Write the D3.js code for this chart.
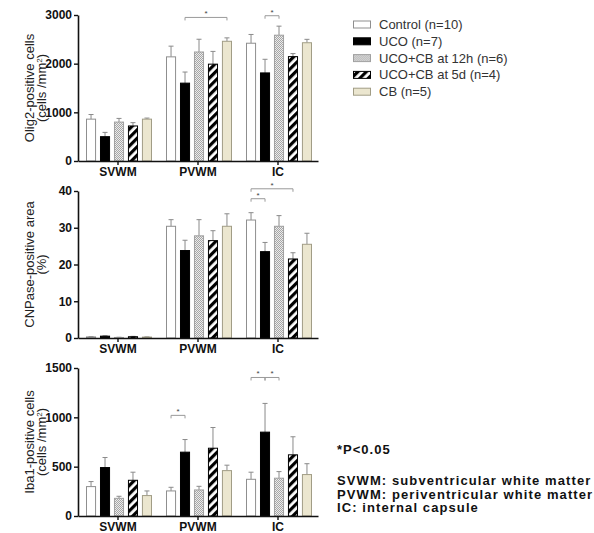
<!DOCTYPE html>
<html lang="en">
<head>
    <meta charset="utf-8">
    <title>Olig2 / CNPase / Iba1</title>
    <script src="https://cdn.jsdelivr.net/npm/d3@7"></script>
    <style>
        body { margin: 0; background: #fff; }
        svg text { font-family: "Liberation Sans", Arial, sans-serif; }
    </style>
</head>
<body>
<script>
// Data ---------------------------------------------------------
var regions = ["SVWM", "PVWM", "IC"];
var groups = ["Control (n=10)", "UCO (n=7)", "UCO+CB at 12h (n=6)", "UCO+CB at 5d (n=4)", "CB (n=5)"];

// rows = regions, columns = groups
var olig2Mean = [[860, 500, 800, 720, 860], [2140, 1600, 2240, 1990, 2460], [2420, 1810, 2585, 2145, 2430]];
var olig2Err  = [[95, 88, 75, 68, 22], [220, 228, 262, 262, 70], [180, 280, 186, 62, 70]];
var olig2Ticks = [0, 1000, 2000, 3000];

var cnpMean = [[0.3, 0.5, 0.15, 0.35, 0.25], [30.4, 23.8, 27.8, 26.5, 30.4], [32.1, 23.5, 30.4, 21.5, 25.5]];
var cnpErr  = [[0.1, 0.1, 0.05, 0.1, 0.05], [1.8, 2.8, 4.4, 2.7, 3.4], [2.0, 2.5, 2.9, 1.7, 3.0]];
var cnpTicks = [0, 10, 20, 30, 40];

var ibaMean = [[298, 491, 179, 362, 207], [254, 647, 264, 687, 460], [372, 850, 383, 620, 420]];
var ibaErr  = [[51, 102, 21, 82, 47], [37, 128, 37, 210, 55], [72, 291, 67, 183, 110]];
var ibaTicks = [0, 500, 1000, 1500];

// significance brackets: [region, group a, group b, height]
var olig2Sig = [[1, 1, 4, 2950], [2, 1, 2, 2985]];
var cnpSig = [[2, 0, 1, 37.9], [2, 0, 3, 40.6]];
var ibaSig = [[1, 0, 1, 1020], [2, 0, 1, 1404], [2, 1, 2, 1404]];

var notes = ["SVWM: subventricular white matter", "PVWM: periventricular white matter", "IC: internal capsule"];

// Layout -------------------------------------------------------
var w = 594, h = 533;
var axisX = 78;

var svg = d3.select("body").append("svg")
    .attr("width", w)
    .attr("height", h);

// patterns
var defs = svg.append("defs");
var dots = defs.append("pattern")
    .attr("id", "dots")
    .attr("width", 2).attr("height", 2)
    .attr("patternUnits", "userSpaceOnUse");
dots.append("rect").attr("width", 2).attr("height", 2).attr("fill", "#ececec");
dots.append("rect").attr("width", 1).attr("height", 1).attr("fill", "#a6a6a6");
dots.append("rect").attr("x", 1).attr("y", 1).attr("width", 1).attr("height", 1).attr("fill", "#a6a6a6");

var stripes = defs.append("pattern")
    .attr("id", "stripes")
    .attr("width", 6).attr("height", 6)
    .attr("patternUnits", "userSpaceOnUse")
    .attr("patternTransform", "rotate(45)");
stripes.append("rect").attr("width", 6).attr("height", 6).attr("fill", "#fff");
stripes.append("rect").attr("width", 3.2).attr("height", 6).attr("fill", "#000");

var fills = ["#ffffff", "#000000", "url(#dots)", "url(#stripes)", "#ebe6cf"];
var strokes = ["#8f8f8f", "#000000", "#a0a0a0", "#000000", "#a19d86"];

// Scales -------------------------------------------------------
var x0 = d3.scaleBand()
    .domain(regions)
    .range([axisX, 318]);

var x1 = d3.scaleBand()
    .domain(d3.range(groups.length))
    .range([8, 74])
    .paddingInner(0.28);

function drawPanel(means, errs, ticks, sig, top, bottom, title1, title2, sup) {
    var y = d3.scaleLinear()
        .domain([0, d3.max(ticks)])
        .range([bottom, top]);

    var g = svg.append("g");

    // bars
    var rows = g.selectAll("g.region")
        .data(means)
        .enter()
        .append("g")
        .attr("transform", function(d, i) { return "translate(" + x0(regions[i]) + ",0)"; });

    rows.each(function(row, ri) {
        var sel = d3.select(this);
        var dat = row.map(function(v, gi) { return { v: v, e: errs[ri][gi], gi: gi }; });

        // error bars (up only)
        sel.selectAll("line.err")
            .data(dat)
            .enter()
            .append("line")
            .attr("x1", function(d) { return x1(d.gi) + x1.bandwidth() / 2; })
            .attr("x2", function(d) { return x1(d.gi) + x1.bandwidth() / 2; })
            .attr("y1", function(d) { return y(d.v); })
            .attr("y2", function(d) { return y(d.v + d.e); })
            .attr("stroke", "#8a8a8a")
            .attr("stroke-width", 1);
        sel.selectAll("line.cap")
            .data(dat)
            .enter()
            .append("line")
            .attr("x1", function(d) { return x1(d.gi) + x1.bandwidth() / 2 - 2.5; })
            .attr("x2", function(d) { return x1(d.gi) + x1.bandwidth() / 2 + 2.5; })
            .attr("y1", function(d) { return y(d.v + d.e); })
            .attr("y2", function(d) { return y(d.v + d.e); })
            .attr("stroke", "#8a8a8a")
            .attr("stroke-width", 1);

        sel.selectAll("rect")
            .data(dat)
            .enter()
            .append("rect")
            .attr("x", function(d) { return x1(d.gi) + 0.5; })
            .attr("width", x1.bandwidth() - 1)
            .attr("y", function(d) { return y(d.v); })
            .attr("height", function(d) { return y(0) - y(d.v); })
            .attr("fill", function(d) { return fills[d.gi]; })
            .attr("stroke", function(d) { return strokes[d.gi]; })
            .attr("stroke-width", 1);
    });

    // axes
    var yAxis = g.append("g")
        .attr("transform", "translate(" + axisX + ",0)")
        .call(d3.axisLeft(y).tickValues(ticks).tickFormat(d3.format("d"))
            .tickSize(4).tickSizeOuter(0).tickPadding(2));
    yAxis.selectAll("text")
        .attr("font-size", "12px")
        .attr("font-weight", "bold")
        .attr("fill", "#111");

    var xAxis = g.append("g")
        .attr("transform", "translate(0," + bottom + ")")
        .call(d3.axisBottom(x0).tickSize(4).tickSizeOuter(0).tickPadding(2));
    xAxis.selectAll("text")
        .attr("font-size", "12px")
        .attr("font-weight", "bold")
        .attr("fill", "#111");

    g.selectAll(".domain").attr("stroke", "#111").attr("stroke-width", 1.6);
    g.selectAll(".tick line").attr("stroke", "#111").attr("stroke-width", 1.4);

    // y titles
    var mid = (top + bottom) / 2;
    g.append("text")
        .attr("transform", "translate(33.5," + mid + ") rotate(-90)")
        .attr("text-anchor", "middle")
        .attr("font-size", "13px")
        .attr("fill", "#222")
        .text(title1);
    var t2 = g.append("text")
        .attr("transform", "translate(45.5," + mid + ") rotate(-90)")
        .attr("text-anchor", "middle")
        .attr("font-size", "13px")
        .attr("fill", "#222")
        .text(title2);
    if (sup) {
        t2.append("tspan").attr("dy", -4).attr("font-size", "8px").text(sup);
        t2.append("tspan").attr("dy", 4).text(")");
    }

    // significance brackets
    sig.forEach(function(s) {
        var xa = x0(regions[s[0]]) + x1(s[1]) + x1.bandwidth() / 2;
        var xb = x0(regions[s[0]]) + x1(s[2]) + x1.bandwidth() / 2;
        var yy = y(s[3]);
        g.append("path")
            .attr("d", "M" + xa + "," + (yy + 3) + "V" + yy + "H" + xb + "V" + (yy + 3))
            .attr("fill", "none")
            .attr("stroke", "#9a9a9a")
            .attr("stroke-width", 1);
        g.append("text")
            .attr("x", (xa + xb) / 2)
            .attr("y", yy - 1)
            .attr("text-anchor", "middle")
            .attr("font-size", "8px")
            .attr("fill", "#444")
            .text("*");
    });
}

drawPanel(olig2Mean, olig2Err, olig2Ticks, olig2Sig, 15, 161, "Olig2-positive cells", "(cells /mm", "2");
drawPanel(cnpMean, cnpErr, cnpTicks, cnpSig, 191, 338, "CNPase-positive area", "(%)", null);
drawPanel(ibaMean, ibaErr, ibaTicks, ibaSig, 368, 516, "Iba1-positive cells", "(cells /mm", "2");

// Legend -------------------------------------------------------
var legend = svg.append("g").attr("transform", "translate(353,24)");
var items = legend.selectAll("g")
    .data(groups)
    .enter()
    .append("g")
    .attr("transform", function(d, i) { return "translate(0," + (i * 16.8) + ")"; });
items.append("rect")
    .attr("x", 0.5).attr("y", -3)
    .attr("width", 17).attr("height", 7)
    .attr("fill", function(d, i) { return fills[i]; })
    .attr("stroke", function(d, i) { return strokes[i]; });
items.append("text")
    .attr("x", 26)
    .attr("y", 5)
    .attr("font-size", "13px")
    .attr("fill", "#333")
    .text(function(d) { return d; });

// Notes --------------------------------------------------------
svg.append("text")
    .attr("x", 337).attr("y", 454)
    .attr("font-size", "13px")
    .attr("font-weight", "bold")
    .attr("letter-spacing", "1px")
    .attr("fill", "#111")
    .text("*P<0.05");

svg.selectAll("text.note")
    .data(notes)
    .enter()
    .append("text")
    .attr("x", 337)
    .attr("y", function(d, i) { return 485 + i * 13.5; })
    .attr("font-size", "13px")
    .attr("font-weight", "bold")
    .attr("letter-spacing", "1.1px")
    .attr("fill", "#111")
    .text(function(d) { return d; });
</script>
</body>
</html>
